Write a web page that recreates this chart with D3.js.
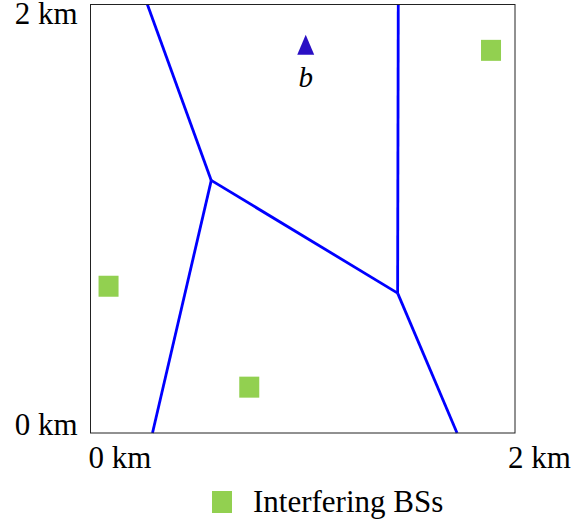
<!DOCTYPE html>
<html>
<head>
<meta charset="utf-8">
<script src="https://d3js.org/d3.v7.min.js"></script>
<style>
  body { margin: 0; background: #fff; }
  text { font-family: "Liberation Serif", "Times New Roman", serif; fill: #000; }
</style>
</head>
<body>
<script>
// positions in km (0..2 square)
var interferingBSs = [[0.085, 0.685], [0.748, 0.214], [1.887, 1.786]];
var userB = [1.014, 1.814];
var cellEdges = [
  [[0.268, 2.0], [0.569, 1.179]],
  [[0.569, 1.179], [0.292, 0.0]],
  [[0.569, 1.179], [1.447, 0.653]],
  [[1.447, 0.653], [1.450, 2.0]],
  [[1.447, 0.653], [1.727, 0.0]]
];
var xTickLabels = ["0 km", "2 km"];
var yTickLabels = ["0 km", "2 km"];
var legendLabel = "Interfering BSs";

var W = 586, H = 525;
var plotLeft = 90.5, plotRight = 515, plotTop = 4.5, plotBottom = 433;

var svg = d3.select('body').append('svg')
  .attr('width', W)
  .attr('height', H);

var x = d3.scaleLinear().domain([0, 2]).range([plotLeft, plotRight]);
var y = d3.scaleLinear().domain([0, 2]).range([plotBottom, plotTop]);

// cell borders
var line = d3.line()
  .x(function(d) { return x(d[0]); })
  .y(function(d) { return y(d[1]); });

svg.append('g').selectAll('path')
  .data(cellEdges)
  .enter().append('path')
  .attr('d', line)
  .attr('fill', 'none')
  .attr('stroke', '#0000ff')
  .attr('stroke-width', 2.8);

// interfering base stations
var sq = 20;
svg.append('g').selectAll('rect')
  .data(interferingBSs)
  .enter().append('rect')
  .attr('x', function(d) { return x(d[0]) - sq / 2; })
  .attr('y', function(d) { return y(d[1]) - sq / 2 - 0.5; })
  .attr('width', sq)
  .attr('height', sq + 1)
  .attr('fill', '#92d050');

// user b (a slightly tall triangle)
var tallTriangle = {
  draw: function(context, size) {
    var w = Math.sqrt(size) * 0.92, h = w * 1.18;
    context.moveTo(0, -h / 2);
    context.lineTo(w / 2, h / 2);
    context.lineTo(-w / 2, h / 2);
    context.closePath();
  }
};
svg.append('path')
  .attr('d', d3.symbol().type(tallTriangle).size(340)())
  .attr('transform', 'translate(' + x(userB[0]) + ',' + (y(userB[1]) + 0.5) + ')')
  .attr('fill', '#2a0fc4');

svg.append('text')
  .attr('x', x(userB[0]))
  .attr('y', y(userB[1]) + 43)
  .attr('text-anchor', 'middle')
  .style('font-style', 'italic')
  .style('font-size', '29px')
  .text('b');

// frame
svg.append('rect')
  .attr('x', plotLeft)
  .attr('y', plotTop)
  .attr('width', plotRight - plotLeft)
  .attr('height', plotBottom - plotTop)
  .attr('fill', 'none')
  .attr('stroke', '#222')
  .attr('stroke-width', 1);

// tick labels
svg.append('text')
  .attr('x', plotLeft - 13).attr('y', 24)
  .attr('text-anchor', 'end')
  .style('font-size', '31px')
  .text(yTickLabels[1]);
svg.append('text')
  .attr('x', plotLeft - 13).attr('y', 435)
  .attr('text-anchor', 'end')
  .style('font-size', '31px')
  .text(yTickLabels[0]);
svg.append('text')
  .attr('x', x(0) - 2).attr('y', 468)
  .style('font-size', '31px')
  .text(xTickLabels[0]);
svg.append('text')
  .attr('x', x(2) - 7).attr('y', 468)
  .style('font-size', '31px')
  .text(xTickLabels[1]);

// legend
svg.append('rect')
  .attr('x', 212).attr('y', 491)
  .attr('width', 20).attr('height', 22)
  .attr('fill', '#92d050');
svg.append('text')
  .attr('x', 253).attr('y', 512)
  .style('font-size', '31px')
  .text(legendLabel);
</script>
</body>
</html>
